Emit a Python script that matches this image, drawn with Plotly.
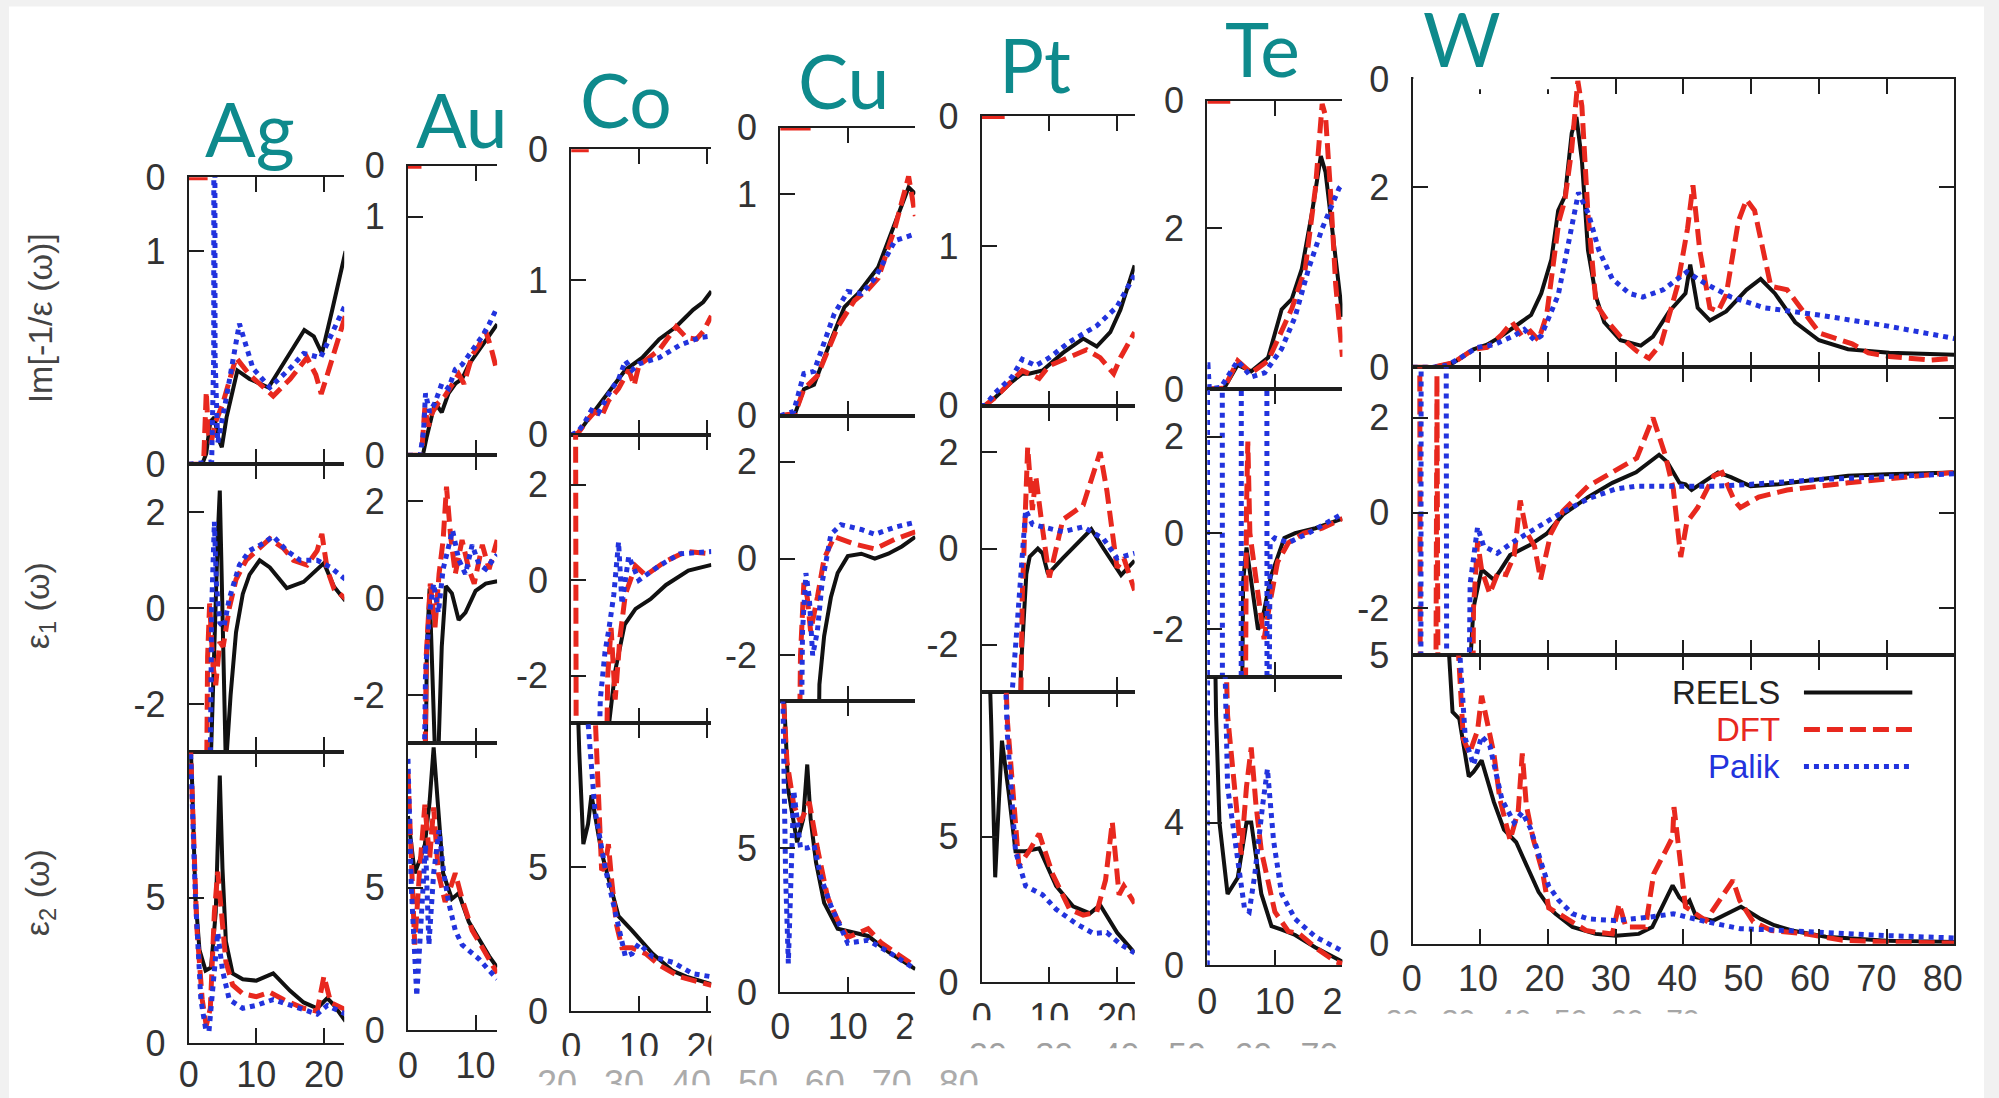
import plotly.graph_objects as go

# ------------------------------------------------------------------ data
ELEMENTS = ["Ag", "Au", "Co", "Cu", "Pt", "Te", "W"]
SERIES = ["REELS", "DFT", "Palik"]

# ---- Ag
ag_im_reels_e = [0, 2.0, 2.6, 3.2, 3.8, 4.4, 4.9, 5.6, 7.2, 9.0, 11.8, 14.0, 17.1, 18.5, 19.7, 21.2, 23.2]
ag_im_reels = [0, 0, 0.05, 0.2, 0.22, 0.12, 0.08, 0.22, 0.44, 0.4, 0.36, 0.47, 0.63, 0.6, 0.52, 0.72, 1.0]
ag_im_dft_e = [0, 2.2, 2.6, 2.9, 3.3, 4.0, 5.0, 7.0, 9.0, 12.5, 15.0, 17.5, 18.8, 19.6, 20.5, 23.2]
ag_im_dft = [0, 0, 0.34, 0.15, 0.1, 0.2, 0.28, 0.5, 0.42, 0.32, 0.4, 0.5, 0.42, 0.33, 0.42, 0.7]
ag_im_palik_e = [0, 3.4, 3.7, 3.8, 3.9, 4.3, 5.5, 7.5, 9.5, 12.0, 15.0, 17.0, 19.5, 21.0, 23.2]
ag_im_palik = [0, 0.01, 0.5, 5.0, 0.5, 0.1, 0.3, 0.66, 0.45, 0.36, 0.45, 0.52, 0.5, 0.6, 0.75]
ag_e1_reels_e = [0, 2.5, 3.2, 3.8, 4.3, 4.6, 5.0, 5.5, 6.2, 7.0, 8.0, 9.0, 10.5, 12.0, 14.5, 17.0, 20.0, 21.5, 23.2]
ag_e1_reels = [-8, -8, -3.5, -0.5, 1.5, 2.45, 0.0, -3.3, -1.8, -0.5, 0.3, 0.7, 1.0, 0.85, 0.42, 0.55, 0.94, 0.45, 0.15]
ag_e1_dft_e = [0, 2.4, 2.8, 3.1, 3.6, 4.0, 4.6, 5.1, 6.0, 7.0, 8.5, 10.0, 12.0, 14.0, 15.5, 17.5, 19.0, 19.7, 20.5, 21.5, 23.2]
ag_e1_dft = [-8, -8, -1.0, 0.1, -1.2, -1.6, -0.7, -0.8, 0.0, 0.6, 1.0, 1.2, 1.45, 1.25, 1.0, 0.9, 1.2, 1.55, 0.8, 0.4, 0.2]
ag_e1_palik_e = [0, 2.9, 3.4, 3.8, 4.1, 4.6, 5.2, 6.0, 7.5, 9.0, 11.0, 12.5, 14.5, 16.5, 19.0, 21.0, 23.2]
ag_e1_palik = [-8, -8, 0.0, 1.8, 0.5, -0.3, -0.4, 0.2, 0.9, 1.2, 1.35, 1.5, 1.2, 1.0, 1.0, 0.85, 0.6]
ag_e2_reels_e = [0, 0.5, 1.0, 1.6, 2.5, 3.3, 4.0, 4.6, 5.0, 5.5, 6.5, 8.0, 10.0, 12.5, 15.0, 17.0, 19.0, 20.5, 21.5, 23.2]
ag_e2_reels = [12, 9.0, 5.0, 3.2, 2.5, 2.6, 4.5, 9.2, 6.0, 3.5, 2.4, 2.2, 2.15, 2.4, 1.8, 1.4, 1.2, 1.55, 1.3, 0.75]
ag_e2_dft_e = [0, 0.5, 1.2, 2.0, 2.6, 3.2, 3.8, 4.3, 4.8, 5.5, 6.5, 8.0, 10.0, 12.0, 14.0, 17.0, 19.0, 20.0, 21.0, 23.2]
ag_e2_dft = [12, 8.5, 4.0, 1.5, 0.6, 1.2, 4.5, 5.9, 4.5, 2.8, 2.0, 1.7, 1.6, 1.75, 1.5, 1.2, 1.1, 2.3, 1.4, 1.15]
ag_e2_palik_e = [0, 0.4, 1.0, 1.8, 2.5, 3.0, 3.6, 4.3, 5.0, 6.0, 8.0, 10.0, 12.5, 15.0, 17.5, 19.0, 20.5, 23.2]
ag_e2_palik = [12, 9.5, 5.0, 1.5, 0.5, 0.4, 1.8, 3.8, 2.5, 1.5, 1.2, 1.3, 1.5, 1.3, 1.1, 1.0, 1.3, 1.0]

# ---- Au
au_im_reels_e = [0, 2.2, 2.8, 3.4, 4.0, 5.0, 6.0, 7.0, 8.0, 9.0, 10.5, 12.0, 13.2]
au_im_reels = [0, 0, 0.08, 0.15, 0.22, 0.18, 0.26, 0.3, 0.32, 0.38, 0.44, 0.5, 0.55]
au_im_dft_e = [0, 2.0, 2.5, 3.0, 3.6, 4.5, 5.5, 6.5, 7.5, 8.3, 9.5, 10.5, 11.5, 12.3, 13.2]
au_im_dft = [0, 0, 0.2, 0.12, 0.18, 0.22, 0.25, 0.3, 0.34, 0.3, 0.42, 0.46, 0.52, 0.45, 0.35]
au_im_palik_e = [0, 1.8, 2.3, 2.6, 3.2, 4.0, 5.0, 6.0, 7.0, 8.0, 9.0, 10.0, 11.0, 12.0, 13.2]
au_im_palik = [0, 0, 0.1, 0.26, 0.18, 0.22, 0.3, 0.28, 0.36, 0.38, 0.42, 0.46, 0.5, 0.55, 0.62]
au_e1_reels_e = [0, 2.3, 2.8, 3.2, 3.6, 4.0, 4.5, 5.0, 5.6, 6.5, 7.5, 8.5, 10.0, 11.5, 13.2]
au_e1_reels = [-8, -8, -1.0, 0.2, -1.5, -3.2, -3.2, -1.0, 0.25, 0.1, -0.45, -0.3, 0.15, 0.3, 0.35]
au_e1_dft_e = [0, 2.2, 2.7, 3.3, 4.0, 4.6, 5.2, 5.7, 6.3, 7.0, 8.0, 9.0, 9.8, 11.0, 12.0, 13.2]
au_e1_dft = [-8, -8, -1.2, 0.3, -0.6, 0.5, 1.2, 2.3, 1.3, 0.5, 1.2, 0.6, 0.3, 1.1, 0.6, 1.2]
au_e1_palik_e = [0, 2.0, 2.6, 3.2, 3.8, 4.5, 5.2, 6.0, 6.6, 7.5, 8.5, 9.5, 10.5, 11.5, 13.2]
au_e1_palik = [-8, -8, -1.5, -0.3, 0.3, -0.3, 0.6, 1.1, 1.4, 0.8, 0.5, 1.1, 0.7, 0.6, 0.9]
au_e2_reels_e = [0, 0.5, 1.0, 1.8, 2.5, 3.2, 3.8, 4.4, 5.2, 6.5, 7.5, 9.0, 10.5, 12.0, 13.2]
au_e2_reels = [7.5, 6.5, 5.5, 6.0, 6.5, 8.0, 9.9, 8.0, 5.5, 4.6, 4.8, 3.8, 3.2, 2.6, 2.2]
au_e2_dft_e = [0, 0.4, 1.0, 1.7, 2.5, 3.2, 3.8, 4.5, 5.5, 6.3, 7.0, 8.0, 9.5, 11.0, 12.5, 13.2]
au_e2_dft = [9.0, 6.5, 3.0, 5.5, 7.9, 6.0, 7.8, 5.5, 4.5, 5.0, 5.5, 4.6, 3.5, 2.9, 2.3, 2.0]
au_e2_palik_e = [0, 0.5, 1.3, 2.0, 2.6, 3.1, 3.8, 4.6, 5.3, 6.0, 7.0, 8.0, 9.0, 10.5, 12.0, 13.2]
au_e2_palik = [9.5, 5.0, 1.2, 4.0, 6.5, 3.0, 5.5, 7.0, 5.5, 4.5, 3.5, 3.0, 2.8, 2.5, 2.1, 1.8]

# ---- Co
co_im_reels_e = [0, 1.0, 2.5, 5.0, 8.0, 10.5, 13.0, 15.5, 18.0, 19.5, 20.7]
co_im_reels = [0, 0.01, 0.1, 0.25, 0.42, 0.5, 0.62, 0.7, 0.81, 0.86, 0.93]
co_im_dft_e = [0, 1.0, 2.5, 3.5, 4.5, 5.5, 7.0, 8.5, 9.3, 10.0, 11.5, 13.0, 15.5, 17.0, 18.5, 19.5, 20.7]
co_im_dft = [0, 0.01, 0.1, 0.15, 0.12, 0.22, 0.3, 0.42, 0.32, 0.45, 0.5, 0.55, 0.7, 0.63, 0.62, 0.67, 0.77]
co_im_palik_e = [0, 1.0, 2.0, 3.0, 4.0, 5.0, 6.0, 7.0, 8.0, 9.0, 10.0, 13.0, 16.0, 19.0, 20.7]
co_im_palik = [0, 0.02, 0.08, 0.16, 0.14, 0.22, 0.3, 0.36, 0.48, 0.42, 0.46, 0.5, 0.58, 0.63, 0.64]
co_e1_reels_e = [0, 5.0, 5.6, 6.5, 7.9, 9.5, 11.7, 14.0, 17.3, 20.7]
co_e1_reels = [-8, -8, -3.0, -1.9, -0.93, -0.6, -0.4, -0.1, 0.2, 0.32]
co_e1_dft_e = [0, 0.6, 0.8, 4.8, 5.4, 5.9, 6.5, 7.2, 8.0, 9.5, 11.0, 14.0, 17.0, 20.7]
co_e1_dft = [8, 8, -8, -8, -2.0, -1.0, -2.5, -1.2, -0.3, 0.3, 0.1, 0.4, 0.6, 0.55]
co_e1_palik_e = [0, 3.5, 4.3, 5.0, 5.6, 6.3, 7.0, 7.5, 8.5, 10.0, 13.0, 16.0, 20.7]
co_e1_palik = [-8, -8, -2.5, -1.5, -1.0, -0.3, 0.8, -0.5, 0.5, 0.0, 0.3, 0.55, 0.6]
co_e2_reels_e = [0, 0.8, 1.2, 1.8, 2.5, 3.0, 4.5, 7.0, 9.0, 12.0, 15.0, 17.0, 20.7]
co_e2_reels = [14, 12, 9.0, 5.8, 6.5, 7.5, 5.5, 3.3, 2.8, 2.0, 1.4, 1.2, 0.94]
co_e2_dft_e = [0, 3.0, 3.5, 4.5, 5.0, 5.5, 6.0, 6.7, 7.5, 9.0, 11.0, 13.0, 16.0, 20.7]
co_e2_dft = [14, 14, 10.5, 4.9, 5.0, 5.8, 4.5, 3.0, 2.2, 2.2, 2.0, 1.6, 1.2, 0.9]
co_e2_palik_e = [0, 2.0, 2.5, 3.5, 5.0, 6.5, 8.0, 9.0, 10.0, 12.0, 15.0, 18.0, 20.7]
co_e2_palik = [14, 14, 10.0, 7.0, 5.0, 3.5, 1.9, 2.0, 2.35, 1.9, 1.7, 1.3, 1.2]

# ---- Cu
cu_im_reels_e = [0, 2.2, 3.5, 5.0, 7.5, 9.5, 11.5, 14.5, 17.5, 19.0, 20.0]
cu_im_reels = [0, 0.01, 0.12, 0.14, 0.34, 0.49, 0.55, 0.67, 0.91, 1.03, 1.0]
cu_im_dft_e = [0, 2.2, 3.5, 5.5, 8.5, 11.0, 13.0, 14.5, 17.0, 19.0, 20.0]
cu_im_dft = [0, 0.01, 0.12, 0.18, 0.4, 0.52, 0.57, 0.62, 0.85, 1.08, 0.9]
cu_im_palik_e = [0, 2.0, 3.5, 5.0, 8.0, 10.0, 12.0, 14.0, 17.0, 20.0]
cu_im_palik = [0, 0.02, 0.19, 0.2, 0.46, 0.56, 0.55, 0.62, 0.79, 0.82]
cu_e1_reels_e = [0, 5.3, 5.8, 6.5, 7.5, 8.5, 10.0, 12.0, 14.0, 16.0, 18.0, 20.0]
cu_e1_reels = [-8, -8, -2.6, -1.6, -0.8, -0.3, 0.05, 0.1, 0.0, 0.1, 0.25, 0.45]
cu_e1_dft_e = [0, 2.5, 3.0, 3.5, 4.0, 4.5, 5.5, 6.5, 8.0, 11.0, 14.0, 17.0, 20.0]
cu_e1_dft = [-8, -8, -2.0, -0.5, -0.8, -1.5, -0.8, 0.0, 0.45, 0.3, 0.2, 0.4, 0.55]
cu_e1_palik_e = [0, 2.8, 3.3, 3.8, 4.3, 4.8, 5.5, 6.2, 7.5, 9.0, 12.0, 14.0, 17.0, 20.0]
cu_e1_palik = [-8, -8, -1.5, -0.3, -0.8, -2.0, -1.5, -0.5, 0.5, 0.7, 0.6, 0.5, 0.65, 0.75]
cu_e2_reels_e = [0, 0.5, 1.2, 2.5, 3.4, 4.0, 4.5, 5.3, 6.5, 8.5, 11.0, 13.0, 16.0, 20.0]
cu_e2_reels = [14, 10.5, 7.0, 5.2, 6.0, 7.9, 6.0, 4.5, 3.1, 2.2, 2.06, 1.95, 1.4, 0.8]
cu_e2_dft_e = [0, 0.4, 1.0, 2.0, 3.0, 4.3, 5.5, 7.0, 8.5, 10.0, 13.0, 15.0, 17.5, 20.0]
cu_e2_dft = [14, 10.5, 8.0, 6.5, 5.9, 6.6, 5.0, 3.3, 2.5, 1.9, 2.2, 1.7, 1.3, 0.9]
cu_e2_palik_e = [0, 0.4, 0.8, 1.2, 1.6, 2.0, 3.0, 4.0, 5.0, 6.0, 7.5, 10.0, 13.0, 16.0, 20.0]
cu_e2_palik = [14, 10.0, 4.0, 1.0, 4.0, 7.0, 5.0, 5.0, 5.1, 4.0, 3.0, 1.7, 1.8, 1.4, 0.8]

# ---- Pt
pt_im_reels_e = [0, 0.5, 2.0, 4.5, 6.0, 7.0, 9.0, 12.0, 15.0, 17.0, 19.0, 20.5, 22.6]
pt_im_reels = [0, 0.0, 0.05, 0.15, 0.2, 0.2, 0.22, 0.33, 0.42, 0.37, 0.46, 0.6, 0.88]
pt_im_dft_e = [0, 0.5, 2.0, 4.5, 6.0, 7.0, 8.5, 10.0, 13.0, 15.5, 17.5, 19.5, 20.5, 22.6]
pt_im_dft = [0, 0.0, 0.05, 0.15, 0.22, 0.2, 0.17, 0.25, 0.3, 0.35, 0.3, 0.2, 0.3, 0.46]
pt_im_palik_e = [0, 0.5, 2.0, 4.5, 6.0, 8.0, 10.0, 13.0, 17.0, 20.0, 22.6]
pt_im_palik = [0, 0.0, 0.08, 0.18, 0.29, 0.25, 0.3, 0.4, 0.5, 0.62, 0.82]
pt_e1_reels_e = [0, 5.3, 5.8, 6.6, 7.1, 8.3, 9.0, 9.8, 12.0, 14.0, 16.2, 18.0, 19.6, 20.6, 22.6]
pt_e1_reels = [-8, -8, -2.5, -0.53, -0.17, 0.0, -0.1, -0.53, -0.2, 0.1, 0.4, 0.0, -0.33, -0.55, -0.25]
pt_e1_dft_e = [0, 5.3, 6.0, 6.8, 7.5, 8.0, 9.0, 10.0, 12.0, 15.0, 17.5, 18.5, 20.0, 21.0, 22.6]
pt_e1_dft = [-8, -8, -1.0, 2.1, 0.8, 1.5, 0.4, -0.6, 0.6, 0.9, 2.0, 1.2, -0.4, -0.2, -0.87]
pt_e1_palik_e = [0, 3.5, 4.5, 5.5, 6.5, 7.5, 9.0, 12.0, 15.0, 18.0, 20.0, 22.6]
pt_e1_palik = [-8, -8, -3.0, -1.0, 0.8, 0.5, 0.45, 0.35, 0.45, 0.2, -0.2, -0.1]
pt_e2_reels_e = [0, 1.0, 1.4, 2.0, 2.5, 3.0, 4.0, 5.0, 6.5, 8.5, 11.0, 13.5, 16.0, 17.5, 20.0, 22.6]
pt_e2_reels = [14, 12, 9.0, 3.6, 6.0, 8.3, 6.5, 4.5, 4.5, 4.6, 3.3, 2.6, 2.36, 2.65, 1.7, 1.0]
pt_e2_dft_e = [0, 3.0, 3.8, 5.5, 7.0, 8.5, 10.5, 13.0, 15.0, 17.0, 18.3, 19.3, 20.3, 21.0, 22.6]
pt_e2_dft = [14, 14, 9.0, 4.0, 4.5, 5.1, 3.7, 2.5, 2.3, 2.4, 3.5, 5.5, 3.0, 3.3, 2.7]
pt_e2_palik_e = [0, 3.0, 3.8, 5.0, 6.5, 9.0, 11.0, 14.0, 16.5, 18.5, 20.5, 22.6]
pt_e2_palik = [14, 14, 8.5, 4.5, 3.3, 3.0, 2.5, 2.0, 1.67, 1.7, 1.3, 1.0]

# ---- Te
te_im_reels_e = [0, 2.5, 4.5, 6.5, 9.0, 11.0, 12.5, 14.0, 15.5, 16.8, 17.5, 18.5, 19.3, 20.0]
te_im_reels = [0, 0.01, 0.3, 0.22, 0.39, 0.99, 1.12, 1.5, 2.2, 2.9, 2.7, 2.0, 1.4, 0.9]
te_im_dft_e = [0, 2.5, 4.5, 6.5, 9.0, 11.5, 12.5, 14.5, 16.0, 17.0, 17.5, 18.2, 19.0, 20.0]
te_im_dft = [0, 0.01, 0.35, 0.2, 0.35, 0.8, 1.0, 1.5, 2.5, 3.55, 3.4, 2.5, 1.3, 0.4]
te_im_palik_e = [0, 0.1, 0.3, 2.0, 4.5, 6.5, 8.5, 11.0, 13.0, 15.0, 17.0, 19.5, 20.0]
te_im_palik = [0.3, 0.3, 0.0, 0.02, 0.35, 0.15, 0.2, 0.5, 0.9, 1.5, 2.0, 2.5, 2.55]
te_e1_reels_e = [0, 4.8, 5.3, 5.8, 6.5, 7.5, 8.0, 9.4, 11.4, 13.0, 16.0, 20.0]
te_e1_reels = [-10, -10, -1.0, -0.3, -1.0, -2.0, -1.9, -0.9, -0.1, 0.0, 0.1, 0.3]
te_e1_dft_e = [0, 5.4, 5.8, 6.0, 6.3, 6.6, 7.2, 8.4, 9.2, 10.4, 12.0, 14.3, 17.0, 20.0]
te_e1_dft = [-10, -10, 0.5, 1.9, 0.0, -0.3, -1.0, -2.2, -1.5, -0.6, -0.2, 0.0, 0.1, 0.3]
te_e1_palik_e = [0, 0.05, 2.2, 2.25, 5.0, 5.05, 8.8, 8.85, 9.3, 10.0, 12.0, 15.0, 20.0]
te_e1_palik = [-10, 10, 10, -10, -10, 10, 10, -10, -0.2, -0.1, -0.2, 0.0, 0.4]
te_e2_reels_e = [0, 0.9, 1.3, 1.8, 3.0, 4.5, 5.8, 6.5, 8.0, 9.5, 11.0, 13.0, 16.0, 20.0]
te_e2_reels = [12, 12, 7.0, 4.0, 2.0, 2.45, 4.0, 4.0, 2.0, 1.1, 1.0, 0.85, 0.5, 0.1]
te_e2_dft_e = [0, 2.3, 3.0, 4.5, 5.0, 5.8, 6.5, 7.2, 8.0, 10.0, 12.0, 13.5, 16.0, 19.0, 20.0]
te_e2_dft = [12, 12, 7.0, 4.0, 3.1, 5.0, 6.1, 4.5, 3.2, 1.5, 0.95, 0.9, 0.5, 0.1, 0.05]
te_e2_palik_e = [0, 0.05, 0.3, 2.2, 3.0, 4.5, 5.5, 6.2, 7.0, 8.2, 8.9, 9.8, 11.0, 13.0, 16.0, 20.0]
te_e2_palik = [0, 12, 12, 12, 5.0, 3.0, 1.6, 1.5, 2.5, 4.5, 5.5, 3.5, 2.0, 1.3, 0.8, 0.4]

# ---- W
w_im_reels_e = [0, 3, 6, 9, 11, 13, 16, 17.5, 19, 20.5, 21.5, 22.5, 23.5, 24.2, 25, 25.9, 27.1, 28.3, 30.7, 33.7,
                35.5, 37.9, 40.3, 41.0, 42.1, 43.9, 46.3, 49.3, 51.4, 53.5, 56.5, 60, 64.3, 70.4, 80]
w_im_reels = [0, 0, 0.05, 0.2, 0.25, 0.34, 0.5, 0.58, 0.82, 1.2, 1.74, 1.9, 2.6, 2.78, 2.3, 1.3, 0.78, 0.5, 0.3, 0.24,
              0.34, 0.62, 0.82, 1.14, 0.66, 0.52, 0.62, 0.86, 0.98, 0.82, 0.5, 0.3, 0.2, 0.16, 0.14]
w_im_dft_e = [0, 3, 6, 9, 11, 13, 14.7, 16.2, 17.4, 18.6, 19.8, 21.6, 22.5, 23.5, 24.4, 25.0, 25.9, 27.1, 28.9, 30.7,
              33.1, 34.9, 36.7, 39.1, 40.6, 41.4, 42.4, 43.9, 45.1, 46.3, 48.1, 49.3, 50.5, 51.7, 52.9, 55.3, 57.7,
              60.1, 64.9, 67.3, 70.4, 76.4, 80]
w_im_dft = [0, 0, 0.05, 0.2, 0.22, 0.35, 0.5, 0.34, 0.4, 0.3, 0.58, 1.62, 1.86, 2.42, 3.18, 2.9, 1.7, 0.7, 0.5, 0.34,
            0.18, 0.1, 0.26, 0.9, 1.54, 2.02, 1.3, 0.66, 0.62, 0.8, 1.62, 1.86, 1.74, 1.3, 0.9, 0.86, 0.62,
            0.38, 0.26, 0.16, 0.12, 0.08, 0.1]
w_im_palik_e = [0, 3, 5, 7, 9.5, 12, 15, 16.5, 18, 19, 21.5, 23, 24.5, 26, 27.5, 29.5, 32, 34, 37, 40.5,
                43, 47, 52, 60, 70, 80]
w_im_palik = [0, 0, 0.02, 0.1, 0.22, 0.25, 0.35, 0.42, 0.3, 0.35, 0.8, 1.38, 1.94, 1.7, 1.3, 0.98, 0.82, 0.78, 0.86, 1.06,
              0.94, 0.78, 0.66, 0.58, 0.46, 0.32]
w_e1_reels_e = [0, 8.2, 8.5, 9.0, 10.2, 12.0, 13.0, 14.4, 17.4, 19.8, 22.2, 25.9, 29.5, 33.0, 36.4, 37.6, 39.4, 40.3,
                41.2, 42.5, 45.1, 47.0, 49.9, 54.0, 58.3, 64.3, 70.0, 80.0]
w_e1_reels = [-10, -10, -3.2, -2.0, -1.19, -1.41, -1.2, -0.89, -0.67, -0.44, -0.04, 0.33, 0.63, 0.85, 1.22, 1.07, 0.63, 0.6,
              0.48, 0.6, 0.85, 0.75, 0.56, 0.6, 0.67, 0.78, 0.81, 0.85]
w_e1_dft_e = [0, 1.0, 1.2, 3.3, 3.6, 3.9, 8.6, 9.0, 9.6, 10.2, 11.4, 12.6, 13.8, 15.0, 15.9, 16.8, 18.0, 18.9, 20.4, 22.2,
              25.9, 29.5, 33.1, 35.5, 37.3, 38.5, 39.6, 40.5, 42.1, 44.5, 45.7, 47.5, 48.4, 51.1, 55.3, 64.3, 80]
w_e1_dft = [10, 10, -10, -10, 2.9, -10, -10, -2.0, -0.6, -1.2, -1.7, -1.26, -1.3, -0.9, 0.26, -0.4, -0.7, -1.4, -0.44, 0.04,
            0.56, 0.85, 1.15, 2.0, 1.22, 0.5, -0.93, -0.2, 0.11, 0.78, 0.85, 0.26, 0.11, 0.33, 0.48, 0.63, 0.85]
w_e1_palik_e = [0, 1.2, 1.3, 4.9, 5.1, 7.9, 8.5, 9.6, 10.5, 12.5, 15.0, 18.0, 22.0, 26.0, 30.0, 33.0, 40.0, 45.0,
                50.0, 60.0, 70.0, 80.0]
w_e1_palik = [-10, -10, 10, 10, -10, -10, -1.5, -0.3, -0.7, -0.85, -0.6, -0.35, 0.0, 0.3, 0.5, 0.56, 0.56, 0.56,
              0.6, 0.7, 0.76, 0.82]
w_e2_reels_e = [0, 5.0, 5.4, 5.9, 6.9, 8.3, 9.0, 10.2, 12.0, 13.5, 15.3, 16.8, 18.6, 20.4, 21.1, 23.6, 27.0, 30.0, 33.4,
                35.4, 36.9, 38.4, 39.4, 40.4, 40.9, 41.9, 44.4, 48.5, 51.4, 53.4, 56.0, 61.0, 70.0, 80.0]
w_e2_reels = [12, 12, 5.0, 4.02, 3.9, 2.9, 2.98, 3.18, 2.46, 1.98, 1.76, 1.36, 0.9, 0.6, 0.52, 0.29, 0.17, 0.14, 0.17,
              0.29, 0.64, 1.01, 0.8, 0.69, 0.75, 0.46, 0.4, 0.64, 0.43, 0.32, 0.23, 0.12, 0.05, 0.03]
w_e2_dft_e = [0, 6.5, 6.8, 7.5, 8.4, 9.6, 10.2, 11.1, 12.0, 12.9, 14.4, 15.6, 16.2, 16.8, 17.8, 19.2, 20.1, 21.6, 23.6,
              25.6, 27.0, 29.5, 30.5, 31.5, 34.4, 35.6, 37.4, 38.4, 38.6, 39.3, 40.3, 43.3, 45.3, 47.3, 48.3, 50.3,
              53.0, 58.0, 63.5, 70.0, 80.0]
w_e2_dft = [12, 12, 5.0, 3.55, 3.3, 3.7, 4.3, 3.8, 3.3, 2.5, 1.8, 2.3, 3.3, 2.4, 1.82, 1.24, 0.62, 0.52, 0.38,
            0.23, 0.2, 0.17, 0.69, 0.29, 0.29, 1.21, 1.62, 1.85, 2.37, 1.6, 0.64, 0.4, 0.75, 1.1, 0.75, 0.38,
            0.23, 0.17, 0.06, 0.03, 0.01]
w_e2_palik_e = [0, 6.5, 7.0, 7.8, 9.0, 10.2, 11.4, 13.2, 15.0, 16.2, 17.4, 18.7, 20.1, 21.6, 23.6, 26.0, 30.0, 35.0,
                38.5, 43.4, 48.4, 55.0, 63.5, 70.0, 80.0]
w_e2_palik = [12, 12, 5.0, 3.55, 3.1, 3.6, 3.44, 2.5, 2.1, 2.28, 2.0, 1.5, 1.0, 0.75, 0.52, 0.43, 0.4, 0.46,
              0.52, 0.38, 0.26, 0.23, 0.17, 0.14, 0.1]

# short red marks at the top-left of each loss-function frame
top_mark_e = {"Ag": [0, 2.8], "Au": [0, 2.0], "Co": [0, 2.6], "Cu": [0, 4.5], "Pt": [0, 3.4], "Te": [0, 3.4]}

# axis tick values / labels
x_ticks = {"Ag": [0, 10, 20], "Au": [0, 10], "Co": [0, 10, 20], "Cu": [0, 10, 20], "Pt": [0, 10, 20],
           "Te": [0, 10, 20], "W": [0, 10, 20, 30, 40, 50, 60, 70, 80]}
x_max = {"Ag": 23.0, "Au": 13.2, "Co": 20.7, "Cu": 20.0, "Pt": 22.6, "Te": 20.0, "W": 80.0}
im_range = {"Ag": 1.347, "Au": 1.214, "Co": 1.85, "Cu": 1.30, "Pt": 1.816, "Te": 3.59, "W": 3.2}
im_ticks = {"Ag": [0, 1], "Au": [0, 1], "Co": [0, 1], "Cu": [0, 1], "Pt": [0, 1], "Te": [0, 2], "W": [0, 2]}
e1_range = {"Ag": [-3.0, 3.0], "Au": [-3.0, 2.95], "Co": [-2.99, 3.04], "Cu": [-2.95, 2.95],
            "Pt": [-2.99, 2.97], "Te": [-2.99, 2.99], "W": [-3.0, 3.06]}
e1_ticks = [-2, 0, 2]
e2_range = {"Ag": 10.0, "Au": 10.04, "Co": 10.0, "Cu": 10.09, "Pt": 9.96, "Te": 8.07, "W": 5.0}
e2_ticks = {"Ag": [0, 5], "Au": [0, 5], "Co": [0, 5], "Cu": [0, 5], "Pt": [0, 5], "Te": [0, 4], "W": [0, 5]}

ghost_labels = ["20", "30", "40", "50", "60", "70", "80"]
ghost_values = [20, 30, 40, 50, 60, 70, 80]

DATA = {
    "Ag": {"im": [(ag_im_reels_e, ag_im_reels), (ag_im_dft_e, ag_im_dft), (ag_im_palik_e, ag_im_palik)],
           "e1": [(ag_e1_reels_e, ag_e1_reels), (ag_e1_dft_e, ag_e1_dft), (ag_e1_palik_e, ag_e1_palik)],
           "e2": [(ag_e2_reels_e, ag_e2_reels), (ag_e2_dft_e, ag_e2_dft), (ag_e2_palik_e, ag_e2_palik)]},
    "Au": {"im": [(au_im_reels_e, au_im_reels), (au_im_dft_e, au_im_dft), (au_im_palik_e, au_im_palik)],
           "e1": [(au_e1_reels_e, au_e1_reels), (au_e1_dft_e, au_e1_dft), (au_e1_palik_e, au_e1_palik)],
           "e2": [(au_e2_reels_e, au_e2_reels), (au_e2_dft_e, au_e2_dft), (au_e2_palik_e, au_e2_palik)]},
    "Co": {"im": [(co_im_reels_e, co_im_reels), (co_im_dft_e, co_im_dft), (co_im_palik_e, co_im_palik)],
           "e1": [(co_e1_reels_e, co_e1_reels), (co_e1_dft_e, co_e1_dft), (co_e1_palik_e, co_e1_palik)],
           "e2": [(co_e2_reels_e, co_e2_reels), (co_e2_dft_e, co_e2_dft), (co_e2_palik_e, co_e2_palik)]},
    "Cu": {"im": [(cu_im_reels_e, cu_im_reels), (cu_im_dft_e, cu_im_dft), (cu_im_palik_e, cu_im_palik)],
           "e1": [(cu_e1_reels_e, cu_e1_reels), (cu_e1_dft_e, cu_e1_dft), (cu_e1_palik_e, cu_e1_palik)],
           "e2": [(cu_e2_reels_e, cu_e2_reels), (cu_e2_dft_e, cu_e2_dft), (cu_e2_palik_e, cu_e2_palik)]},
    "Pt": {"im": [(pt_im_reels_e, pt_im_reels), (pt_im_dft_e, pt_im_dft), (pt_im_palik_e, pt_im_palik)],
           "e1": [(pt_e1_reels_e, pt_e1_reels), (pt_e1_dft_e, pt_e1_dft), (pt_e1_palik_e, pt_e1_palik)],
           "e2": [(pt_e2_reels_e, pt_e2_reels), (pt_e2_dft_e, pt_e2_dft), (pt_e2_palik_e, pt_e2_palik)]},
    "Te": {"im": [(te_im_reels_e, te_im_reels), (te_im_dft_e, te_im_dft), (te_im_palik_e, te_im_palik)],
           "e1": [(te_e1_reels_e, te_e1_reels), (te_e1_dft_e, te_e1_dft), (te_e1_palik_e, te_e1_palik)],
           "e2": [(te_e2_reels_e, te_e2_reels), (te_e2_dft_e, te_e2_dft), (te_e2_palik_e, te_e2_palik)]},
    "W": {"im": [(w_im_reels_e, w_im_reels), (w_im_dft_e, w_im_dft), (w_im_palik_e, w_im_palik)],
          "e1": [(w_e1_reels_e, w_e1_reels), (w_e1_dft_e, w_e1_dft), (w_e1_palik_e, w_e1_palik)],
          "e2": [(w_e2_reels_e, w_e2_reels), (w_e2_dft_e, w_e2_dft), (w_e2_palik_e, w_e2_palik)]},
}
for el in DATA:
    for key in DATA[el]:
        for xs, ys in DATA[el][key]:
            assert len(xs) == len(ys), (el, key, len(xs), len(ys))

# ------------------------------------------------------------------ layout / geometry
FIG_W, FIG_H = 1999, 1098
SX, SY = FIG_W / 1568.0, FIG_H / 861.0   # geometry measured on the 1568x861 preview


def px(x):
    return min(max(x * SX / FIG_W, 0.0), 1.0)


def py(y):
    return min(max(1.0 - y * SY / FIG_H, 0.0), 1.0)


# left, right, (top, im|e1, e1|e2, bottom), x-label centre y, title centre
GEOM = {
    "Ag": dict(left=148, right=270, ys=(139, 364, 590, 818), label_y=845, title=(196, 100)),
    "Au": dict(left=320, right=390, ys=(130, 357, 583, 808), label_y=838, title=(362, 93)),
    "Co": dict(left=448, right=558, ys=(117, 341, 567, 793), label_y=823, title=(491, 78)),
    "Cu": dict(left=612, right=718, ys=(100, 326, 550, 778), label_y=808, title=(662, 63)),
    "Pt": dict(left=770, right=890, ys=(91, 318, 543, 770), label_y=800, title=(812, 50)),
    "Te": dict(left=947, right=1053, ys=(79, 305, 531, 757), label_y=788, title=(990, 38)),
    "W": dict(left=1108, right=1533, ys=(62, 288, 514, 740), label_y=770, title=(1147, 30)),
}

AXC = "#1e1e1e"
TICKFONT = dict(family="Liberation Sans, Arial, sans-serif", size=36, color="#333333")
TEAL = "#0e8a8c"
STYLE = {
    "REELS": dict(color="#111111", width=4),
    "DFT": dict(color="#e8281e", width=5, dash="16px,7px"),
    "Palik": dict(color="#2233dd", width=5, dash="5px,5px"),
}

fig = go.Figure()
layout = {}
shapes = []
annotations = []
counter = [0]


def new_axes():
    counter[0] += 1
    i = counter[0]
    sfx = "" if i == 1 else str(i)
    return "x" + sfx, "y" + sfx, "xaxis" + sfx, "yaxis" + sfx


def fmt(v):
    return str(int(v)) if float(v).is_integer() else str(v)


def clipped_labels(labels, values, unit_px, origin_px, left_px, right_px, top_px, bottom_px, center_px,
                   color, size):
    """Text row drawn in its own (invisible) subplot so that it is clipped at the frame edge."""
    bottom_px = min(bottom_px, 861)
    xr, yr, xa, ya = new_axes()
    layout[xa] = dict(domain=[px(left_px), px(right_px)],
                      range=[(left_px - origin_px) / unit_px, (right_px - origin_px) / unit_px],
                      visible=False, fixedrange=True, anchor=yr, automargin=False)
    layout[ya] = dict(domain=[py(bottom_px), py(top_px)],
                      range=[-(bottom_px - center_px), center_px - top_px],
                      visible=False, fixedrange=True, anchor=xr, automargin=False)
    fig.add_trace(go.Scatter(x=values, y=[0] * len(values), text=labels, mode="text",
                             textposition="middle center", cliponaxis=True, hoverinfo="skip",
                             textfont=dict(family="Liberation Sans, Arial, sans-serif", size=size, color=color),
                             xaxis=xr, yaxis=yr, showlegend=False))


axis_ids = {}
for el in ELEMENTS:
    g = GEOM[el]
    left, right = g["left"], g["right"]
    y0, y1, y2, y3 = g["ys"]
    xmax = x_max[el]
    inner_ticks = [t for t in x_ticks[el] if 0 < t <= xmax]
    rows = {
        "im": (y0, y1, [0, im_range[el]], im_ticks[el] + [im_range[el]],
               [fmt(t) for t in im_ticks[el]] + ["0"]),
        "e1": (y1, y2, e1_range[el], e1_ticks, [fmt(t) for t in e1_ticks]),
        "e2": (y2, y3, [0, e2_range[el]], e2_ticks[el], [fmt(t) for t in e2_ticks[el]]),
    }
    for key in ["im", "e1", "e2"]:
        top, bot, rng, tv, tt = rows[key]
        xr, yr, xa, ya = new_axes()
        axis_ids[(el, key)] = (xr, yr)
        layout[xa] = dict(domain=[px(left), px(right)], range=[0, xmax], anchor=yr,
                          showline=True, linecolor=AXC, linewidth=2, mirror="ticks",
                          ticks="inside", ticklen=15, tickwidth=2, tickcolor=AXC,
                          tickvals=inner_ticks, showticklabels=False, automargin=False,
                          showgrid=False, zeroline=False, fixedrange=True)
        layout[ya] = dict(domain=[py(bot), py(top)], range=rng, anchor=xr,
                          showline=True, linecolor=AXC, linewidth=2,
                          mirror="ticks" if el == "W" else False,
                          ticks="inside", ticklen=15, tickwidth=2, tickcolor=AXC,
                          tickvals=tv, ticktext=tt, tickfont=TICKFONT, ticklabelstandoff=14,
                          automargin=False, showgrid=False, zeroline=False, fixedrange=True)
        for name, (xs, ys) in zip(SERIES, DATA[el][key]):
            fig.add_trace(go.Scatter(x=xs, y=ys, mode="lines", line=STYLE[name], xaxis=xr, yaxis=yr,
                                     showlegend=False, hoverinfo="skip", name=name))
        if key == "im" and el in top_mark_e:
            fig.add_trace(go.Scatter(x=top_mark_e[el], y=[im_range[el]] * 2, mode="lines",
                                     line=dict(color="#e8281e", width=6), xaxis=xr, yaxis=yr,
                                     showlegend=False, hoverinfo="skip"))
    # x tick labels, clipped at the right edge of the frame like the pasted panels
    unit = (right - left) / xmax
    clipped_labels([fmt(t) for t in x_ticks[el]], x_ticks[el], unit, left,
                   left - 34, right + (45 if el == "W" else 0),
                   y3 + 4, y3 + 60, g["label_y"], "#333333", 36)
    # element title
    tx, ty = g["title"]
    annotations.append(dict(text=el, x=px(tx), y=py(ty), xref="paper", yref="paper",
                            xanchor="center", yanchor="middle", showarrow=False,
                            font=dict(family="Lato, Noto Sans, sans-serif", size=75, color=TEAL)))

# faint, cut-off label rows left over from the pasted panels
clipped_labels(ghost_labels, ghost_values, 5.25, 332, 415, 780, 828, 851, 852, "#ababab", 36)
clipped_labels(ghost_labels[:6], ghost_values[:6], 5.2, 671, 715, 1060, 800, 822, 829, "#a0a0a0", 34)
clipped_labels(ghost_labels[:6], ghost_values[:6], 4.4, 1012, 1060, 1400, 780, 795, 802, "#a5a5a5", 30)

# white patch hiding the top-left part of the W frame (behind the title)
wx, wy = axis_ids[("W", "im")]
g = GEOM["W"]
shapes.append(dict(type="rect", xref=wx, yref="paper", x0=0.12, x1=20.4,
                   y0=py(g["ys"][0] + 8), y1=py(g["ys"][0] - 10),
                   fillcolor="white", line=dict(width=0), layer="above"))

# legend inside the W epsilon_2 frame (text first, sample line after, as in gnuplot)
legend_rows = [("REELS", "#222222", 543), ("DFT", "#e8281e", 572), ("Palik", "#2233dd", 601)]
for name, col, ly in legend_rows:
    annotations.append(dict(text=name, x=px(1398), y=py(ly), xref="paper", yref="paper",
                            xanchor="right", yanchor="middle", showarrow=False,
                            font=dict(family="Liberation Sans, Arial, sans-serif", size=33, color=col)))
    st = STYLE[name]
    shapes.append(dict(type="line", xref="paper", yref="paper", x0=px(1415), x1=px(1500),
                       y0=py(ly), y1=py(ly),
                       line=dict(color=st["color"], width=st["width"], dash=st.get("dash", "solid")),
                       layer="above"))

# row titles on the far left
for txt, ly in [("Im[-1/ε (ω)]", 250), ("ε<sub>1</sub> (ω)", 475), ("ε<sub>2</sub> (ω)", 700)]:
    annotations.append(dict(text=txt, x=px(31), y=py(ly), xref="paper", yref="paper",
                            xanchor="center", yanchor="middle", textangle=-90, showarrow=False,
                            font=dict(family="Liberation Sans, Arial, sans-serif", size=34, color="#444444")))

# light grey frame of the picture
for x0, x1, y0, y1 in [(0, 1, 0.994, 1), (0, 0.0045, 0, 1), (0.9925, 1, 0, 1)]:
    shapes.append(dict(type="rect", xref="paper", yref="paper", x0=x0, x1=x1, y0=y0, y1=y1,
                       fillcolor="#f1f1f1", line=dict(width=0), layer="below"))

fig.update_layout(**layout)
fig.update_layout(width=FIG_W, height=FIG_H, autosize=False,
                  margin=dict(l=0, r=0, t=0, b=0, pad=0, autoexpand=False),
                  paper_bgcolor="white", plot_bgcolor="white",
                  showlegend=False, shapes=shapes, annotations=annotations)

# pin the graph to the top-left corner of the window so that the page is exactly the figure
fig.write_html("out.html", config={"displayModeBar": False, "staticPlot": True},
               post_script="var gd=document.getElementById('{plot_id}');"
                           "gd.style.position='fixed';gd.style.left='0px';gd.style.top='0px';"
                           "document.documentElement.style.margin='0';document.body.style.margin='0';"
                           "document.documentElement.style.overflow='hidden';"
                           "document.body.style.overflow='hidden';")
